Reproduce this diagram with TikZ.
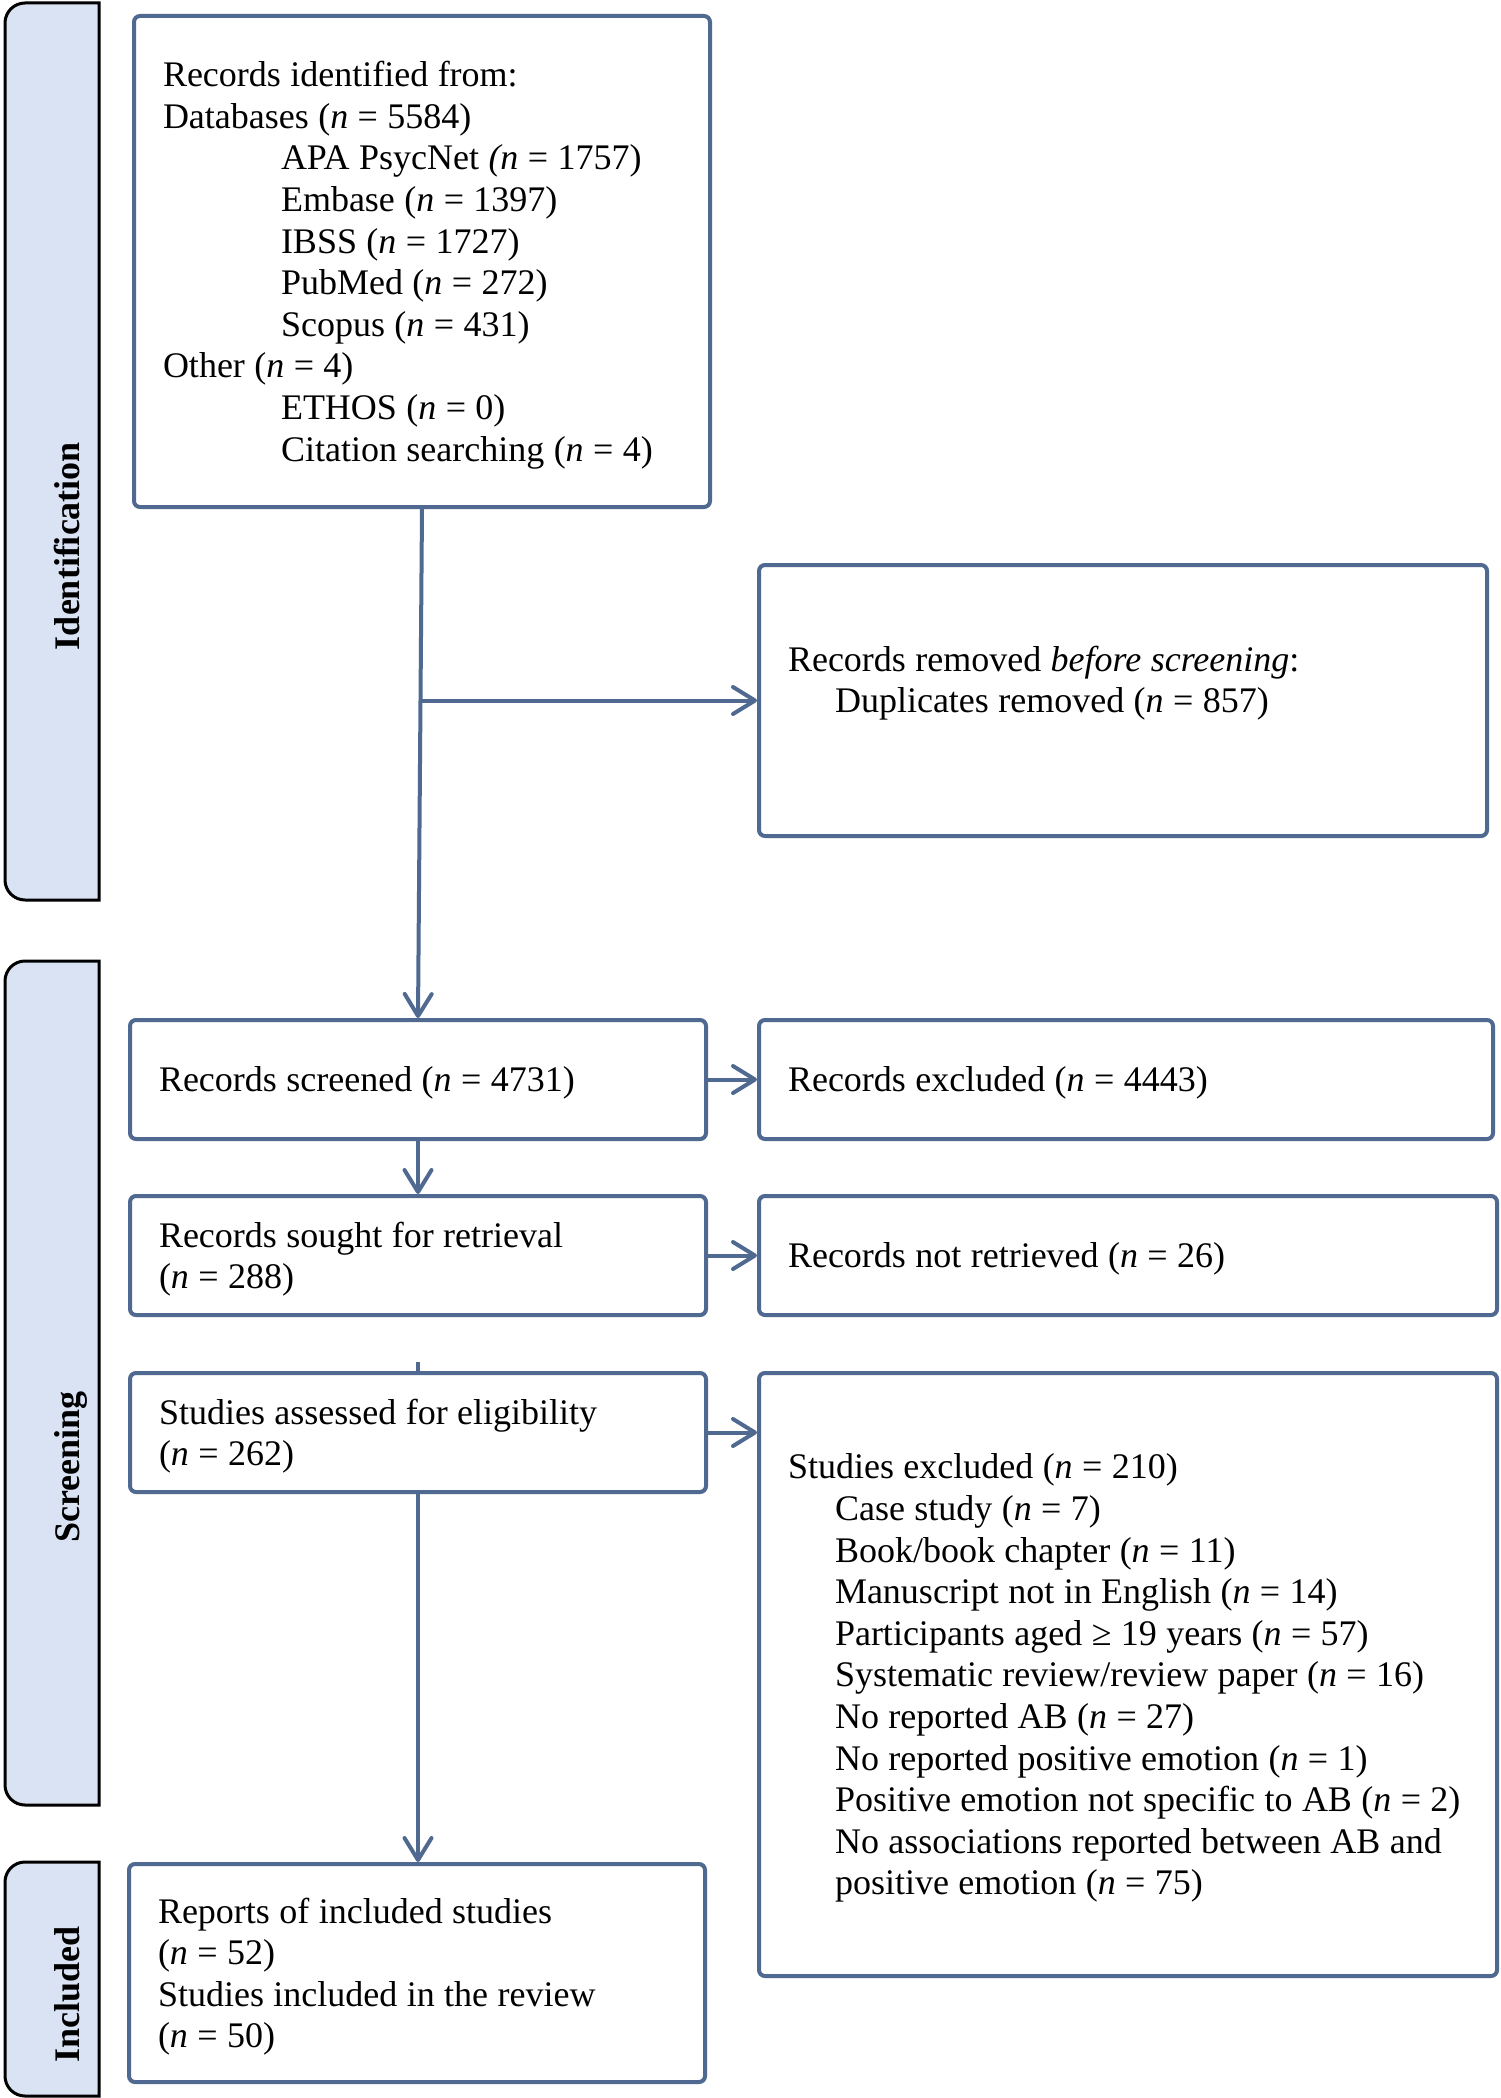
\documentclass[tikz,border=0pt]{standalone}
\usepackage{fontspec}
\setmainfont{Liberation Serif}
\usetikzlibrary{arrows.meta}
\definecolor{boxblue}{RGB}{79,105,145}
\definecolor{sidefill}{RGB}{218,227,243}
\newcommand\tstr{\spaceskip=4.7pt plus 1pt minus 0.5pt\relax\xspaceskip=4.7pt\relax\rule{0pt}{16.9pt}}
\newcommand\bstr{\rule[-4.5pt]{0pt}{0pt}}
\begin{document}
\begin{tikzpicture}[x=0.5pt,y=-0.5pt,
  box/.style={draw=boxblue, line width=2pt, rounded corners=3pt, align=left,
    inner xsep=14.5pt, inner ysep=0pt, font=\fontsize{18}{20.8}\selectfont, anchor=center},
  arr/.style={draw=boxblue, line width=2pt, -{Straight Barb[length=11pt,width=13.5pt,round]}},
  plainline/.style={draw=boxblue, line width=2pt},
  side/.style={draw=black, line width=1.5pt, fill=sidefill},
  sidelabel/.style={rotate=90, anchor=base, inner sep=0pt, font=\fontsize{18}{20.8}\selectfont\bfseries}]
\fill[white] (0,0) rectangle (1500,2098);
\useasboundingbox (0,0) rectangle (1500,2098);

% side bars
\path[side] (99,3) -- (25,3) .. controls (14,3) and (5,12) .. (5,23) -- (5,880)
  .. controls (5,891) and (14,900) .. (25,900) -- (99,900) -- cycle;
\path[side] (99,961) -- (25,961) .. controls (14,961) and (5,970) .. (5,981) -- (5,1785)
  .. controls (5,1796) and (14,1805) .. (25,1805) -- (99,1805) -- cycle;
\path[side] (99,1862) -- (25,1862) .. controls (14,1862) and (5,1871) .. (5,1882) -- (5,2076)
  .. controls (5,2087) and (14,2096) .. (25,2096) -- (99,2096) -- cycle;
\node[sidelabel] (labId) at (79,546) {Identification};
\node[sidelabel] (labSc) at (79,1467) {Screening};
\node[sidelabel] (labIn) at (79,1994) {Included};

% boxes
\node[box, text width=259pt, minimum width=288pt, minimum height=245.5pt] (records) at (422,261.5)
 {\tstr Records identified from:\\
  Databases (\textit{n} = 5584)\\
  \hspace*{59pt}APA PsycNet \textit{(n} = 1757)\\
  \hspace*{59pt}Embase (\textit{n} = 1397)\\
  \hspace*{59pt}IBSS (\textit{n} = 1727)\\
  \hspace*{59pt}PubMed (\textit{n} = 272)\\
  \hspace*{59pt}Scopus (\textit{n} = 431)\\
  Other (\textit{n} = 4)\\
  \hspace*{59pt}ETHOS (\textit{n} = 0)\\
  \hspace*{59pt}Citation searching (\textit{n} = 4)\bstr};

\node[box, text width=335pt, minimum width=364pt, minimum height=135.5pt] (removed) at (1123,700.5)
 {\tstr Records removed \textit{before screening}:\\
  \hspace*{23.5pt}Duplicates removed (\textit{n} = 857)\\
  \mbox{}\bstr};

\node[box, text width=259pt, minimum width=288pt, minimum height=59.5pt] (screened) at (418,1079.5)
 {\tstr Records screened (\textit{n} = 4731)\bstr};
\node[box, text width=338pt, minimum width=367pt, minimum height=59.5pt] (excluded) at (1126,1079.5)
 {\tstr Records excluded (\textit{n} = 4443)\bstr};

\node[box, text width=259pt, minimum width=288pt, minimum height=59.5pt] (sought) at (418,1255.5)
 {\tstr Records sought for retrieval\\ (\textit{n} = 288)\bstr};
\node[box, text width=340pt, minimum width=369pt, minimum height=59.5pt] (notret) at (1128,1255.5)
 {\tstr Records not retrieved (\textit{n} = 26)\bstr};

\node[box, text width=259pt, minimum width=288pt, minimum height=59.5pt] (assessed) at (418,1432.5)
 {\tstr Studies assessed for eligibility\\ (\textit{n} = 262)\bstr};
\node[box, text width=340pt, minimum width=369pt, minimum height=301.5pt] (studexcl) at (1128,1674.5)
 {\tstr Studies excluded (\textit{n} = 210)\\
  \hspace*{23.5pt}Case study (\textit{n} = 7)\\
  \hspace*{23.5pt}Book/book chapter (\textit{n} = 11)\\
  \hspace*{23.5pt}Manuscript not in English (\textit{n} = 14)\\
  \hspace*{23.5pt}Participants aged ≥ 19 years (\textit{n} = 57)\\
  \hspace*{23.5pt}Systematic review/review paper (\textit{n} = 16)\\
  \hspace*{23.5pt}No reported AB (\textit{n} = 27)\\
  \hspace*{23.5pt}No reported positive emotion (\textit{n} = 1)\\
  \hspace*{23.5pt}\mbox{Positive emotion not specific to AB (\textit{n} = 2)}\\
  \hspace*{23.5pt}No associations reported between AB and\\
  \hspace*{23.5pt}positive emotion (\textit{n} = 75)\bstr};

\node[box, text width=259pt, minimum width=288pt, minimum height=109pt] (included) at (417,1973)
 {\tstr Reports of included studies\\ (\textit{n} = 52)\\ Studies included in the review\\ (\textit{n} = 50)\bstr};

% connectors
\draw[arr] (records.south) -- (screened.north);
\coordinate (br) at (420,700.5);
\draw[arr] (br) -- (removed.west);
\draw[arr] (screened.east) -- (excluded.west);
\draw[arr] (screened.south) -- (sought.north);
\draw[arr] (sought.east) -- (notret.west);
\draw[plainline] (assessed.north) -- ++(0,-9);
\draw[arr] (assessed.east) -- (assessed.east -| studexcl.west);
\draw[arr] (assessed.south) -- (assessed.south |- included.north);
\end{tikzpicture}
\end{document}
